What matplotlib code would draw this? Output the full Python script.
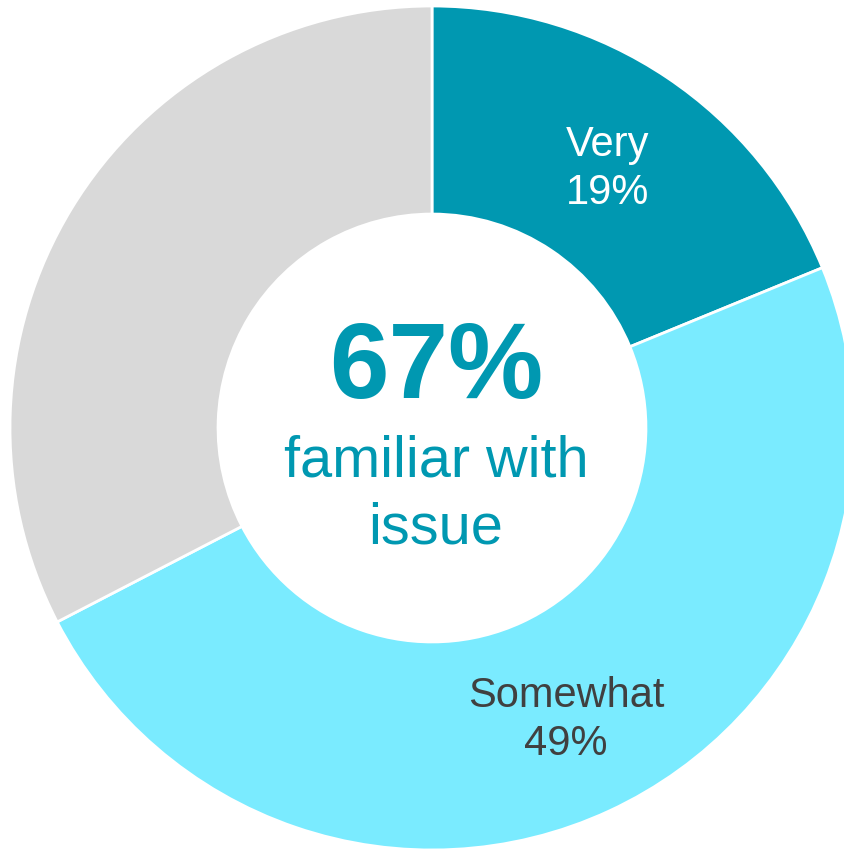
import matplotlib.pyplot as plt

plt.rcParams['font.family'] = ['Liberation Sans', 'DejaVu Sans']

labels = ["Very", "Somewhat", "Not familiar"]
shares = [18.8, 48.6, 32.6]
label_text = ["19%", "49%", ""]
total_familiar = "67%"
colors = ["#0098B1", "#7AEBFF", "#D9D9D9"]

W, H = 845, 849
fig = plt.figure(figsize=(W / 100, H / 100), dpi=100)
ax = fig.add_axes([0, 0, 1, 1])

cx, cy, R = 432, H - 428, 422
ax.pie(shares, colors=colors, startangle=90, counterclock=False,
       center=(cx, cy), radius=R,
       wedgeprops=dict(width=R * 0.493, edgecolor="white", linewidth=2))
ax.set_xlim(0, W)
ax.set_ylim(0, H)
ax.set_aspect("equal")
ax.axis("off")

# slice labels
ax.text(608, H - 156, labels[0], color="white", fontsize=30, ha="center", va="baseline")
ax.text(608, H - 204, label_text[0], color="white", fontsize=30, ha="center", va="baseline")
ax.text(566, H - 707, labels[1], color="#404040", fontsize=30, ha="center", va="baseline")
ax.text(566, H - 755, label_text[1], color="#404040", fontsize=30, ha="center", va="baseline")

# centre text
teal = colors[0]
ax.text(cx + 4, H - 398, total_familiar, color=teal, fontsize=77, fontweight="bold",
        ha="center", va="baseline")
ax.text(cx + 4, H - 476, "familiar with", color=teal, fontsize=41.5, ha="center", va="baseline")
ax.text(cx + 4, H - 543, "issue", color=teal, fontsize=41.5, ha="center", va="baseline")

fig.savefig("out.png", dpi=100)
